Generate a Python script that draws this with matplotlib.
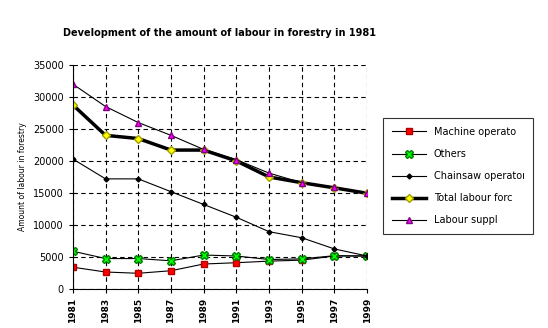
import matplotlib.pyplot as plt
import numpy as np

years = [1981, 1983, 1985, 1987, 1989, 1991, 1993, 1995, 1997, 1999]
machine = [3400, 2650, 2450, 2850, 3900, 4100, 4350, 4500, 5150, 5150]
others = [5900, 4750, 4750, 4400, 5300, 5150, 4600, 4700, 5200, 5150]
chainsaw = [20300, 17200, 17200, 15200, 13200, 11200, 8950, 8000, 6250, 5150]
total = [28750, 24000, 23500, 21700, 21700, 20000, 17500, 16600, 15800, 14950]
supply = [32000, 28500, 26000, 24000, 21800, 20200, 18100, 16600, 15900, 14950]
labels = ['Machine operato', 'Others', 'Chainsaw operatoı', 'Total labour forc', 'Labour suppl']

fig = plt.figure(figsize=(5.48, 3.28), dpi=100)
ax = fig.add_axes([0.133, 0.119, 0.537, 0.683])

ax.plot(years, machine, color='black', linewidth=0.8, marker='s', markersize=4.5,
        markerfacecolor='red', markeredgecolor='#b00000', label=labels[0])
ax.plot(years, others, color='black', linewidth=0.8, marker='X', markersize=5.5,
        markerfacecolor='#00ff00', markeredgecolor='#008000', label=labels[1])
ax.plot(years, chainsaw, color='black', linewidth=0.8, marker='D', markersize=2.5,
        markerfacecolor='black', label=labels[2])
ax.plot(years, total, color='black', linewidth=2.5, marker='D', markersize=4,
        markerfacecolor='yellow', markeredgecolor='#a0a000', label=labels[3])
ax.plot(years, supply, color='black', linewidth=0.8, marker='^', markersize=4.5,
        markerfacecolor='#ff00ff', markeredgecolor='#800080', label=labels[4])

ax.set_xlim(1981, 1999)
ax.set_ylim(0, 35000)
ax.set_xticks(years)
ax.set_xticklabels([str(y) for y in years], rotation=90, fontsize=6.5, fontweight='bold')
ax.set_yticks(np.arange(0, 35001, 5000))
ax.tick_params(axis='y', labelsize=7, length=3)
ax.tick_params(axis='x', length=3)
ax.grid(True, color='black', linestyle=(0, (4, 3)), linewidth=0.8)
ax.spines['top'].set_visible(False)
ax.spines['right'].set_visible(False)
ax.set_ylabel('Amount of labour in forestry', fontsize=5.5)

fig.text(0.40, 0.89, 'Development of the amount of labour in forestry in 1981',
         ha='center', fontsize=7, fontweight='bold')

leg = fig.legend(loc='upper left', bbox_to_anchor=(0.699, 0.64), fontsize=7,
                 frameon=True, fancybox=False, edgecolor='black', labelspacing=1.25,
                 handlelength=3.5, borderpad=0.9, borderaxespad=0)
leg.get_frame().set_linewidth(0.8)

fig.savefig('out.png', dpi=100)
